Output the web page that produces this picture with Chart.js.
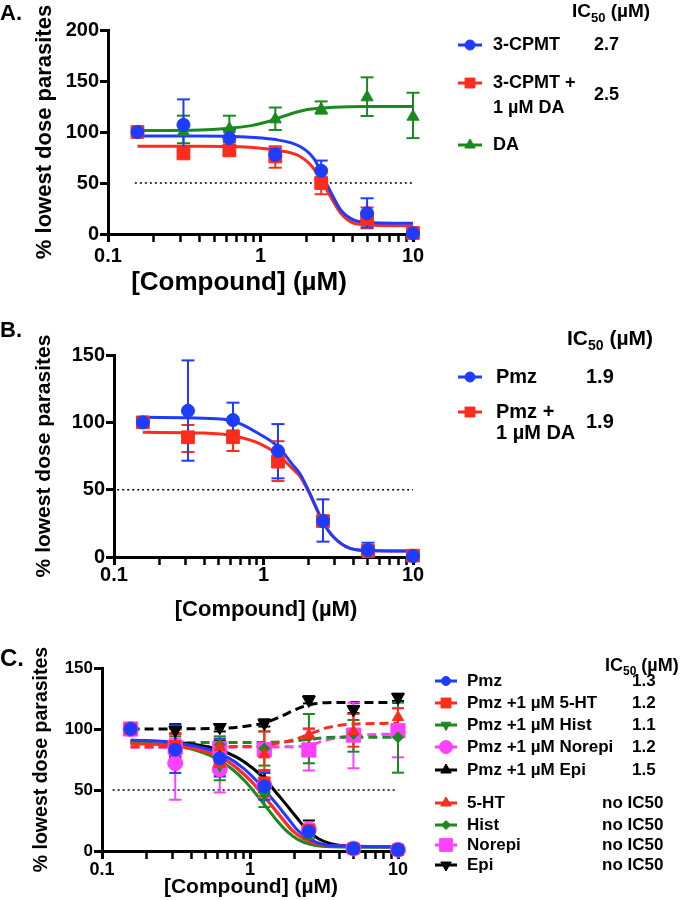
<!DOCTYPE html>
<html><head><meta charset="utf-8">
<script src="https://cdn.jsdelivr.net/npm/chart.js@4.4.1/dist/chart.umd.min.js"></script>
<style>
html,body{margin:0;padding:0;background:#fff;}
#wrap{position:relative;width:680px;height:900px;background:#fff;overflow:hidden;}
#wrap canvas{position:absolute;left:0;top:0;}
</style></head><body>
<div id="wrap">
<canvas id="cA" width="680" height="900"></canvas>
<canvas id="cB" width="680" height="900"></canvas>
<canvas id="cC" width="680" height="900"></canvas>
</div>
<script>
// ---------- shared axis data ----------
const doses = [0.156, 0.3125, 0.625, 1.25, 2.5, 5, 10];
const xMajorTicks = [0.1, 1, 10];
const xMinorTicks = [0.2, 0.3, 0.4, 0.5, 0.6, 0.7, 0.8, 0.9, 2, 3, 4, 5, 6, 7, 8, 9];
const yTicksA = [0, 50, 100, 150, 200];
const yTicksBC = [0, 50, 100, 150];
const halfLine = 50;
const xTitle = '[Compound] (µM)';
const yTitle = '% lowest dose parasites';

// ---------- Panel A ----------
const cpmtMean = [100, 107, 94, 77.5, 62, 20.3, 0.7];
const cpmtLo   = [null, 81, 86, 72, 53, 6.5, 0];
const cpmtHi   = [null, 132, 102, 84, 72, 35, 1.5];
const cpmtDaMean = [100, 79, 82, 76, 50, 15, 1];
const cpmtDaLo   = [null, 76.5, 79, 65, 39, 5.6, 0];
const cpmtDaHi   = [null, 82, 85, 86, 54, 26, 2];
const daMean = [100, 100, 103, 112.4, 122, 134, 115];
const daLo   = [null, 89, 90, 102, 118, 115.7, 94];
const daHi   = [null, 116, 116, 124, 130, 153.6, 138.5];
const cpmtFitX = [0.156, 0.4, 0.74, 1.22, 1.83, 2.24, 2.61, 2.88, 3.36, 4.11, 5.56, 10];
const cpmtFitY = [96, 96, 95.4, 92.8, 85.6, 74, 54.6, 41.5, 23.5, 13.7, 11, 10.5];
const cpmtDaFitX = [0.156, 0.4, 0.74, 1.22, 1.83, 2.24, 2.61, 2.88, 3.36, 4.11, 5.56, 10];
const cpmtDaFitY = [86, 86, 85.5, 82.4, 75.8, 64, 48, 36.6, 20.3, 10.5, 8.5, 8];
const daFitX = [0.156, 0.4, 0.6, 0.85, 1.11, 1.5, 2.03, 3.04, 5, 10];
const daFitY = [101.5, 102, 103.5, 106, 110, 116.7, 122, 124.3, 125, 125];
const refA = [0.15, 10];
const labelsA = ['3-CPMT', '3-CPMT +', '1 µM DA', 'DA'];
const ic50A = ['2.7', '2.5'];

// ---------- Panel B ----------
const pmzMeanB = [100, 108.6, 101.7, 78.7, 26.7, 5.2, 0.7];
const pmzLoB   = [null, 71.5, 88.9, 58.4, 11.4, 0, 0];
const pmzHiB   = [null, 146, 114.6, 98.7, 42.8, 10.6, 1.5];
const pmzDaMeanB = [100, 88.9, 88.9, 70.8, 26.7, 4.5, 1];
const pmzDaLoB   = [null, 78, 78.7, 56.4, 23, 2, 0];
const pmzDaHiB   = [null, 98, 94, 86, 30, 7, 2];
const pmzFitXB = [0.156, 0.4, 0.625, 0.95, 1.25, 1.58, 1.75, 1.99, 2.5, 2.93, 3.79, 5, 10];
const pmzFitYB = [103.7, 103, 101, 91, 82, 68, 62, 50, 26, 15, 6.4, 4.8, 4.4];
const pmzDaFitXB = [0.156, 0.4, 0.625, 0.95, 1.25, 1.58, 1.75, 1.99, 2.5, 2.93, 3.79, 5, 10];
const pmzDaFitYB = [92.6, 92, 90, 84, 76, 65, 60, 49, 26, 15, 6.4, 4.8, 4.4];
const refB = [0.105, 10];
const labelsB = ['Pmz', 'Pmz +', '1 µM DA'];
const ic50B = ['1.9', '1.9'];

// ---------- Panel C ----------
const pmzMeanC = [100, 83, 76, 53, 16, 2, 1];
const pmzLoC   = [null, 64, 61, 42, 12, 1, 0];
const pmzHiC   = [null, 103, 92, 64, 20, 3, 2];
const htPmzMean = [100, 86, 73, 56, 17, 2, 1];
const htPmzLo   = [null, 78, 62, 45, 13, 1, 0];
const htPmzHi   = [null, 96, 84, 66, 21, 3, 2];
const histPmzMean = [100, 85, 70, 46, 14, 2, 1];
const histPmzLo   = [null, 70, 58, 36, 10, 1, 0];
const histPmzHi   = [null, 100, 82, 56, 18, 3, 2];
const nePmzMean = [100, 72, 67, 54, 18, 2, 1];
const nePmzLo   = [null, 42, 48, 44, 14, 1, 0];
const nePmzHi   = [null, 102, 86, 64, 22, 3, 2];
const epiPmzMean = [100, 86, 77, 58, 20, 2, 1];
const epiPmzLo   = [null, 77, 64, 48, 15, 1, 0];
const epiPmzHi   = [null, 104, 90, 66, 25, 3, 2];
const htMean = [100, 85, 85, 79, 95, 98, 109.6];
const htLo   = [null, 72, 80, 60, 88, 85.5, 103];
const htHi   = [null, 96.7, 90, 98, 100.5, 112.3, 117];
const histMean = [100, 86, 87, 84, 93.7, 96, 93.2];
const histLo   = [null, 78, 80, 70, 71.9, 81.4, 64.2];
const histHi   = [null, 94, 94, 98, 112.3, 107.4, 121.6];
const neMean = [100, 85, 84, 83, 82.8, 95, 98.6];
const neLo   = [null, 78, 76, 78, 66, 67.8, 76.8];
const neHi   = [null, 92, 92, 88, 99.7, 121.6, 117];
const epiMean = [100, 99, 101.4, 104.7, 123.8, 116, 126];
const epiLo   = [null, 96, 98, 102, 121, 113, 123];
const epiHi   = [null, 103, 104, 108, 127, 119, 129];
const pmzFitXC = [0.156, 0.3, 0.5, 0.7, 0.9, 1.1, 1.3, 1.5, 1.8, 2.1, 2.5, 3, 4, 10];
const pmzFitYC = [91, 89, 84, 77, 68, 58, 48, 39, 27, 17, 10, 6, 4, 3.5];
const htPmzFitX = [0.156, 0.3, 0.46, 0.65, 0.83, 1.02, 1.2, 1.38, 1.66, 1.94, 2.3, 2.8, 4, 10];
const htPmzFitY = [88, 86.5, 82.5, 76, 67, 57, 47, 38, 26, 16.5, 10, 6, 4, 3.5];
const histPmzFitX = [0.156, 0.3, 0.42, 0.59, 0.76, 0.93, 1.1, 1.27, 1.52, 1.78, 2.1, 2.55, 3.5, 10];
const histPmzFitY = [89, 86.5, 83, 76, 67, 57, 46.5, 37, 25, 16, 9.5, 5.5, 3.5, 3];
const nePmzFitX = [0.156, 0.3, 0.46, 0.65, 0.83, 1.02, 1.2, 1.38, 1.66, 1.94, 2.3, 2.8, 4, 10];
const nePmzFitY = [90, 88, 83.5, 76.5, 67.5, 57.5, 47.5, 38.5, 26.5, 17, 10.5, 6, 4, 3.5];
const epiPmzFitX = [0.156, 0.35, 0.58, 0.81, 1.04, 1.27, 1.5, 1.73, 2.08, 2.42, 2.9, 3.5, 4.6, 10];
const epiPmzFitY = [90, 88.5, 84, 77, 68, 58.5, 48, 39, 27, 17.5, 10, 6, 4, 3.5];
const epiFitX = [0.156, 0.625, 0.9, 1.23, 1.6, 2, 2.5, 3.3, 5, 10];
const epiFitY = [100, 100.5, 102, 104.7, 110, 115.5, 119.7, 121.6, 121.8, 121.8];
const htFitX = [0.156, 0.6, 1.17, 1.5, 1.96, 2.5, 3.3, 5, 10];
const htFitY = [85.5, 85.5, 86, 88, 91, 95.5, 101, 104, 104.7];
const histFitX = [0.156, 1.25, 1.8, 2.5, 3.3, 5, 10];
const histFitY = [88.8, 89, 89.8, 91.5, 93, 93.3, 93.3];
const neFitX = [0.156, 1.17, 1.96, 2.5, 3.3, 5, 10];
const neFitY = [85, 85.3, 85.5, 86.5, 91, 94.5, 96];
const refC = [0.118, 9.5];
const labelsC = ['Pmz', 'Pmz +1 µM 5-HT', 'Pmz +1 µM Hist', 'Pmz +1 µM Norepi', 'Pmz +1 µM Epi', '5-HT', 'Hist', 'Norepi', 'Epi'];
const ic50C = ['1.3', '1.2', '1.1', '1.2', '1.5', 'no IC50', 'no IC50', 'no IC50', 'no IC50'];

// ---------- styling ----------
const BLUE = '#1e3cff', RED = '#ff2b1c', GREEN = '#1a8a1f', MAG = '#ff40ff', BLACK = '#000000';
const FONT = "'Liberation Sans', Arial, Helvetica, sans-serif";
function fnt(size) { return {family: FONT, size: size, weight: 'bold', lineHeight: 1.2}; }
const allXTicks = xMajorTicks.concat(xMinorTicks).sort((a, b) => a - b);
function isMajor(v) { return xMajorTicks.some(m => Math.abs(m - v) < 1e-9); }

function pts(xs, ys) { return xs.map((x, i) => ({x: x, y: ys[i]})); }
function errPts(lo, hi) {
  const out = [];
  doses.forEach((d, i) => {
    if (lo[i] == null || hi[i] == null) return;
    out.push({x: d, y: lo[i]}, {x: d, y: hi[i]}, {x: d, y: null});
  });
  return out;
}
function curve(xs, ys, color, dash) {
  return {data: pts(xs, ys), borderColor: color, borderWidth: 3, borderDash: dash || [],
    pointRadius: 0, cubicInterpolationMode: 'monotone', fill: false, order: 2, clip: false};
}
function markers(ys, color, style, r, rot) {
  return {data: pts(doses, ys), showLine: false, pointStyle: style, pointRadius: r,
    pointRotation: rot || 0, pointBackgroundColor: color, pointBorderColor: color, pointBorderWidth: 1,
    order: 0, clip: false};
}
function errs(lo, hi, color, cap) {
  return {data: errPts(lo, hi), borderColor: color, borderWidth: 2, pointStyle: 'line',
    pointRadius: cap || 6.5, pointBorderColor: color, pointBackgroundColor: color, pointBorderWidth: 2,
    tension: 0, spanGaps: false, order: 1, clip: false};
}
function refLine(xr) {
  return {data: [{x: xr[0], y: halfLine}, {x: xr[1], y: halfLine}], borderColor: '#000',
    borderWidth: 1.5, borderDash: [2, 3], pointRadius: 0, order: 3, clip: false};
}

function drawMarker(ctx, style, r, rot, x, y) {
  if (Chart.helpers && Chart.helpers.drawPoint) {
    Chart.helpers.drawPoint(ctx, {pointStyle: style, radius: r, rotation: rot || 0, borderWidth: 1}, x, y);
  } else {
    ctx.beginPath(); ctx.arc(x, y, r, 0, Math.PI * 2); ctx.fill();
  }
}

const textPlugin = {
  id: 'panelText',
  afterDraw(chart, args, o) {
    const ctx = chart.ctx;
    ctx.save();
    (o.icons || []).forEach(ic => {
      ctx.strokeStyle = ic.color; ctx.fillStyle = ic.color; ctx.lineWidth = 3;
      ctx.beginPath(); ctx.moveTo(ic.x - ic.half, ic.y); ctx.lineTo(ic.x + ic.half, ic.y); ctx.stroke();
      ctx.lineWidth = 1;
      drawMarker(ctx, ic.style, ic.r, ic.rot, ic.x, ic.y);
    });
    ctx.fillStyle = '#000';
    (o.texts || []).forEach(t => {
      ctx.font = 'bold ' + t.size + 'px ' + FONT;
      ctx.textAlign = t.align || 'left';
      ctx.textBaseline = t.base || 'middle';
      ctx.fillText(t.t, t.x, t.y);
    });
    (o.headers || []).forEach(h => {
      ctx.textAlign = 'left'; ctx.textBaseline = 'alphabetic';
      let x = h.x;
      ctx.font = 'bold ' + h.size + 'px ' + FONT;
      ctx.fillText('IC', x, h.y); x += ctx.measureText('IC').width;
      ctx.font = 'bold ' + h.sub + 'px ' + FONT;
      ctx.fillText('50', x, h.y + h.drop); x += ctx.measureText('50').width;
      ctx.font = 'bold ' + h.size + 'px ' + FONT;
      ctx.fillText(' (µM)', x, h.y);
    });
    ctx.restore();
  }
};

function mkChart(id, p) {
  return new Chart(document.getElementById(id), {
    type: 'line',
    data: {datasets: p.datasets},
    options: {
      responsive: false, animation: false, events: [],
      layout: {padding: {left: 0, top: p.t, right: 680 - p.r, bottom: 900 - p.b - 40}},
      plugins: {legend: {display: false}, tooltip: {enabled: false},
        panelText: {texts: p.texts, icons: p.icons, headers: p.headers}},
      scales: {
        x: {type: 'logarithmic', position: 'bottom', min: 0.1, max: 10,
          afterFit: s => { s.height = 40; },
          afterBuildTicks: s => { s.ticks = allXTicks.map(v => ({value: v})); },
          border: {display: true, width: 3, color: '#000'},
          grid: {drawOnChartArea: false, drawTicks: true, tickLength: 8,
            tickWidth: c => (c.tick && isMajor(c.tick.value)) ? 3 : 2.5, tickColor: '#000'},
          ticks: {color: '#000', font: fnt(p.xTick), padding: p.xPad, maxRotation: 0, autoSkip: false,
            maxTicksLimit: 100,
            callback: v => isMajor(v) ? String(v) : ''}},
        y: {type: 'linear', position: 'left', min: 0, max: p.yMax,
          afterFit: s => { s.width = p.l; },
          afterBuildTicks: s => { s.ticks = p.yTicks.map(v => ({value: v})); },
          border: {display: true, width: 3, color: '#000'},
          grid: {drawOnChartArea: false, drawTicks: true, tickLength: 8, tickWidth: 3, tickColor: '#000'},
          ticks: {color: '#000', font: fnt(p.yTick), padding: 1},
          title: {display: true, text: yTitle, color: '#000', font: fnt(p.yTitleSize),
            padding: {top: p.yTitlePad, bottom: 0}}}
      }
    },
    plugins: [textPlugin]
  });
}

// ---------- Panel A ----------
mkChart('cA', {
  l: 108, r: 413, t: 30, b: 234, yMax: 200, yTicks: yTicksA, xTick: 20, yTick: 20, xPad: 2,
  yTitleSize: 22, yTitlePad: 31.5,
  datasets: [
    markers(cpmtMean, BLUE, 'circle', 6.5),
    markers(cpmtDaMean, RED, 'rect', 9),
    markers(daMean, GREEN, 'triangle', 7),
    errs(cpmtLo, cpmtHi, BLUE), errs(cpmtDaLo, cpmtDaHi, RED), errs(daLo, daHi, GREEN),
    curve(cpmtFitX, cpmtFitY, BLUE), curve(cpmtDaFitX, cpmtDaFitY, RED), curve(daFitX, daFitY, GREEN),
    refLine(refA)
  ],
  texts: [
    {t: 'A.', x: 0, y: 14, size: 22},
    {t: xTitle, x: 239, y: 283, size: 26, align: 'center'},
    {t: labelsA[0], x: 493, y: 45, size: 18},
    {t: labelsA[1], x: 493, y: 83, size: 18},
    {t: labelsA[2], x: 493, y: 108, size: 18},
    {t: labelsA[3], x: 493, y: 145, size: 18},
    {t: ic50A[0], x: 594, y: 45, size: 18},
    {t: ic50A[1], x: 594, y: 95, size: 18}
  ],
  headers: [{x: 572, y: 17, size: 19, sub: 13, drop: 5}],
  icons: [
    {x: 470, y: 45, half: 12, color: BLUE, style: 'circle', r: 5},
    {x: 470, y: 83, half: 12, color: RED, style: 'rect', r: 7},
    {x: 470, y: 145, half: 12, color: GREEN, style: 'triangle', r: 6}
  ]
});

// ---------- Panel B ----------
mkChart('cB', {
  l: 114, r: 413, t: 355, b: 557, yMax: 150, yTicks: yTicksBC, xTick: 20, yTick: 20, xPad: -2,
  yTitleSize: 21, yTitlePad: 31.4,
  datasets: [
    markers(pmzMeanB, BLUE, 'circle', 6.5),
    markers(pmzDaMeanB, RED, 'rect', 9),
    errs(pmzLoB, pmzHiB, BLUE), errs(pmzDaLoB, pmzDaHiB, RED),
    curve(pmzFitXB, pmzFitYB, BLUE), curve(pmzDaFitXB, pmzDaFitYB, RED),
    refLine(refB)
  ],
  texts: [
    {t: 'B.', x: 0, y: 331, size: 22},
    {t: xTitle, x: 266, y: 610, size: 22, align: 'center'},
    {t: labelsB[0], x: 496, y: 377, size: 20},
    {t: labelsB[1], x: 496, y: 412, size: 20},
    {t: labelsB[2], x: 496, y: 433, size: 20},
    {t: ic50B[0], x: 586, y: 377, size: 20},
    {t: ic50B[1], x: 586, y: 422, size: 20}
  ],
  headers: [{x: 567, y: 345, size: 21, sub: 14, drop: 5}],
  icons: [
    {x: 470, y: 377, half: 12, color: BLUE, style: 'circle', r: 5},
    {x: 470, y: 412, half: 12, color: RED, style: 'rect', r: 7}
  ]
});

// ---------- Panel C ----------
const rowsC = [681, 703, 725, 747, 770, 803, 825, 845, 865];
const iconStylesC = [
  {color: BLUE, style: 'circle', r: 4.5},
  {color: RED, style: 'rect', r: 7},
  {color: GREEN, style: 'triangle', r: 5.5, rot: 180},
  {color: MAG, style: 'circle', r: 6.5},
  {color: BLACK, style: 'triangle', r: 6},
  {color: RED, style: 'triangle', r: 6},
  {color: GREEN, style: 'rectRot', r: 4.5},
  {color: MAG, style: 'rect', r: 9},
  {color: BLACK, style: 'triangle', r: 6, rot: 180}
];
const textsC = [
  {t: 'C.', x: 0, y: 659, size: 24},
  {t: xTitle, x: 251, y: 887, size: 21, align: 'center'}
];
labelsC.forEach((s, i) => {
  textsC.push({t: s, x: 467, y: rowsC[i], size: 17});
  textsC.push({t: ic50C[i], x: i < 5 ? 632 : 602, y: rowsC[i], size: 17});
});
mkChart('cC', {
  l: 102, r: 398, t: 668, b: 851, yMax: 150, yTicks: yTicksBC, xTick: 18, yTick: 17, xPad: 0,
  yTitleSize: 19.5, yTitlePad: 30.3,
  datasets: [
    markers(pmzMeanC, BLUE, 'circle', 6.5),
    markers(htPmzMean, RED, 'rect', 8),
    markers(histPmzMean, GREEN, 'triangle', 6.5, 180),
    markers(nePmzMean, MAG, 'circle', 7.5),
    markers(epiPmzMean, BLACK, 'triangle', 6.5),
    markers(htMean, RED, 'triangle', 6.5),
    markers(histMean, GREEN, 'rectRot', 5.5),
    markers(neMean, MAG, 'rect', 10),
    markers(epiMean, BLACK, 'triangle', 7.5, 180),
    errs(pmzLoC, pmzHiC, BLUE, 6), errs(htPmzLo, htPmzHi, RED, 6), errs(histPmzLo, histPmzHi, GREEN, 6),
    errs(nePmzLo, nePmzHi, MAG, 6), errs(epiPmzLo, epiPmzHi, BLACK, 6),
    errs(htLo, htHi, RED, 6), errs(histLo, histHi, GREEN, 6), errs(neLo, neHi, MAG, 6), errs(epiLo, epiHi, BLACK, 6),
    curve(pmzFitXC, pmzFitYC, BLUE), curve(htPmzFitX, htPmzFitY, RED), curve(histPmzFitX, histPmzFitY, GREEN),
    curve(nePmzFitX, nePmzFitY, MAG), curve(epiPmzFitX, epiPmzFitY, BLACK),
    curve(epiFitX, epiFitY, BLACK, [9, 5]), curve(htFitX, htFitY, RED, [9, 5]),
    curve(histFitX, histFitY, GREEN, [9, 5]), curve(neFitX, neFitY, MAG, [9, 5]),
    refLine(refC)
  ],
  texts: textsC,
  headers: [{x: 605, y: 671, size: 18, sub: 12, drop: 4}],
  icons: iconStylesC.map((s, i) => ({x: 446, y: rowsC[i], half: 11, color: s.color, style: s.style, r: s.r, rot: s.rot || 0}))
});
</script>
</body></html>
